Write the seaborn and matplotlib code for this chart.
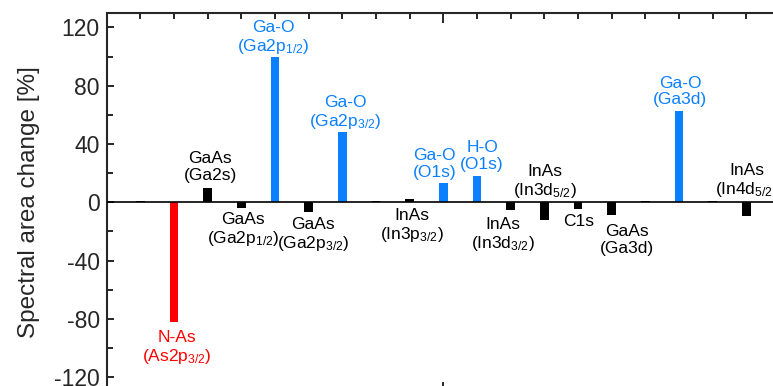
import matplotlib
matplotlib.use("Agg")
import matplotlib.pyplot as plt
from matplotlib.ticker import MultipleLocator, NullFormatter
import seaborn as sns
import pandas as pd

# Peak positions along the spectrum index and their spectral area change [%]
positions = list(range(1, 20))
values = [0.8, -82, 10, -3.6, 100, -7, 48, 0.9, 2.5, 13, 18,
          -5.5, -12.3, -4.8, -8.9, 0.8, 62.4, 0.8, -9.4]
kinds = ["bulk", "nitride", "bulk", "bulk", "oxide", "bulk", "oxide", "bulk",
         "bulk", "oxide", "oxide", "bulk", "bulk", "bulk", "bulk", "bulk",
         "oxide", "bulk", "bulk"]

# Peak annotations: text, kind, anchor position (x, y) in data units
label_texts = [
    "GaAs\n(Ga2s)",
    "Ga-O\n(Ga2p$_{1/2}$)",
    "Ga-O\n(Ga2p$_{3/2}$)",
    "GaAs\n(Ga2p$_{1/2}$)",
    "GaAs\n(Ga2p$_{3/2}$)",
    "N-As\n(As2p$_{3/2}$)",
    "InAs\n(In3p$_{3/2}$)",
    "Ga-O\n(O1s)",
    "H-O\n(O1s)",
    "InAs\n(In3d$_{3/2}$)",
    "InAs\n(In3d$_{5/2}$)",
    "C1s",
    "GaAs\n(Ga3d)",
    "Ga-O\n(Ga3d)",
    "InAs\n(In4d$_{5/2}$)",
]
label_kinds = ["bulk", "oxide", "oxide", "bulk", "bulk", "nitride", "bulk",
               "oxide", "oxide", "bulk", "bulk", "bulk", "bulk", "oxide", "bulk"]
label_x = [3.07, 4.94, 7.08, 4.05, 6.13, 2.09, 9.07, 9.73, 11.15, 11.78,
           13.03, 14.01, 15.46, 17.04, 19.03]
label_y = [24.2, 112.5, 61.4, -19.2, -22.3, -99.8, -16.5, 26.4, 31.9, -22.6,
           13.7, -13.0, -25.7, 76.1, 14.7]

palette = {"bulk": "#000000", "nitride": "#FF0000", "oxide": "#0A80FF"}

sns.set_style("ticks")
plt.rcParams["font.family"] = ["Liberation Sans", "DejaVu Sans"]
plt.rcParams["mathtext.fontset"] = "custom"
plt.rcParams["mathtext.rm"] = "Liberation Sans"
plt.rcParams["mathtext.it"] = "Liberation Sans:italic"
plt.rcParams["mathtext.default"] = "regular"
plt.rcParams["axes.unicode_minus"] = False

df = pd.DataFrame({"pos": positions, "change": values, "kind": kinds})

fig = plt.figure(figsize=(7.73, 3.86), dpi=100)
ax = fig.add_axes([0.138, -0.0145, 0.871, 0.981])

sns.barplot(data=df, x="pos", y="change", hue="kind", palette=palette,
            native_scale=True, width=0.25, dodge=False, legend=False,
            saturation=1, linewidth=0, ax=ax)

ax.axhline(0, color="black", lw=1.2, zorder=3)

for txt, k, x, y in zip(label_texts, label_kinds, label_x, label_y):
    ax.text(x, y, txt, color=palette[k], ha="center", va="center",
            fontsize=12.5, linespacing=1.15, multialignment="center")

ax.set_xlim(0, 20)
ax.set_ylim(-130, 130)
ax.xaxis.set_major_locator(MultipleLocator(10))
ax.xaxis.set_minor_locator(MultipleLocator(1))
ax.xaxis.set_major_formatter(NullFormatter())
ax.yaxis.set_major_locator(MultipleLocator(40))
ax.yaxis.set_minor_locator(MultipleLocator(20))

ax.tick_params(axis="x", which="both", direction="in", top=True, bottom=True,
               width=1.4)
ax.tick_params(axis="x", which="major", length=7)
ax.tick_params(axis="x", which="minor", length=4.5)
ax.tick_params(axis="y", which="both", direction="in", left=True, right=True,
               width=1.4, labelsize=16.5, pad=5)
ax.tick_params(axis="y", which="major", length=5)
ax.tick_params(axis="y", which="minor", length=4.5)

for s in ax.spines.values():
    s.set_linewidth(1.5)
    s.set_visible(True)

ax.set_xlabel("")
ax.set_ylabel("Spectral area change [%]", fontsize=17.5, labelpad=10)

fig.savefig("out.png", dpi=100)
